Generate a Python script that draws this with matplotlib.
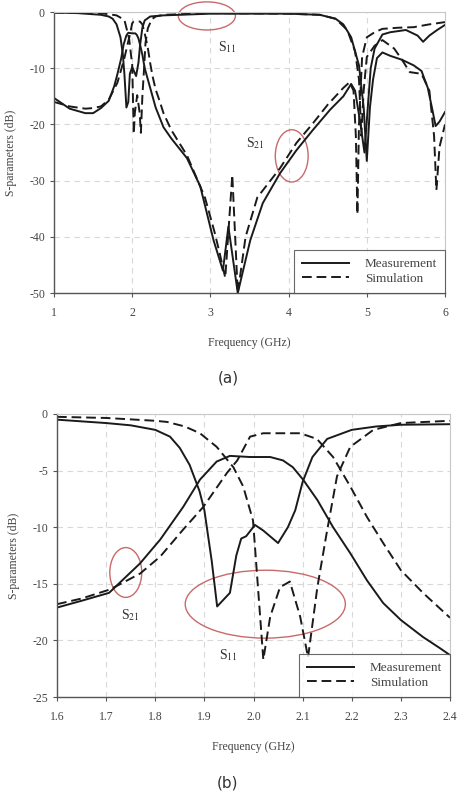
import matplotlib.pyplot as plt
from matplotlib.patches import Ellipse

plt.rcParams['font.family'] = ['Liberation Serif', 'DejaVu Serif']
plt.rcParams['mathtext.fontset'] = 'stix'

# ---- (a) wide band, 1-6 GHz ----
a_s11_meas_f = [1.0, 1.3, 1.6, 1.7, 1.75, 1.8, 1.85, 1.88, 1.9, 1.926, 1.95, 1.97, 2.0, 2.05,
                2.08, 2.1, 2.13, 2.16, 2.23, 2.4, 3.0, 4.0, 4.4, 4.6, 4.7, 4.8, 4.9, 4.96,
                5.0, 5.04, 5.08, 5.13, 5.2, 5.3, 5.45, 5.6, 5.7, 5.78, 5.84, 5.88, 5.93, 6.0]
a_s11_meas_db = [-0.1, -0.2, -0.5, -0.8, -1.2, -2.2, -4.5, -7.5, -11.0, -17.0, -16.0, -11.0, -9.8, -11.4,
                 -9.0, -6.0, -2.8, -1.5, -0.8, -0.6, -0.3, -0.3, -0.5, -1.2, -2.2, -4.5, -9.5, -17.0,
                 -26.5, -17.0, -12.0, -8.2, -7.2, -7.8, -8.5, -9.5, -10.5, -13.5, -17.5, -20.3, -19.5, -17.8]

a_s11_sim_f = [1.0, 1.6, 1.8, 1.9, 1.96, 2.0, 2.02, 2.034, 2.064, 2.095, 2.111, 2.13, 2.15, 2.17,
               2.2, 2.25, 2.3, 2.4, 3.0, 4.0, 4.4, 4.6, 4.75, 4.85, 4.9, 4.93, 4.96, 5.0, 5.1,
               5.2, 5.35, 5.45, 5.55, 5.7, 5.8, 5.86, 5.89, 5.93, 6.0]
a_s11_sim_db = [-0.1, -0.2, -0.6, -1.4, -4.7, -9.4, -21.7, -17.9, -14.8, -17.9, -21.5, -15.0, -10.5, -5.5,
                -2.9, -1.3, -0.8, -0.5, -0.2, -0.3, -0.5, -1.2, -3.2, -7.0, -12.0, -22.0, -14.0, -8.0, -6.0,
                -5.0, -6.5, -8.5, -10.7, -11.0, -14.0, -22.0, -31.7, -24.0, -20.0]

a_s21_meas_f = [1.0, 1.2, 1.4, 1.5, 1.6, 1.7, 1.77, 1.81, 1.86, 1.89, 1.925, 1.95, 2.0, 2.04, 2.06,
                2.08, 2.1, 2.13, 2.16, 2.2, 2.3, 2.4, 2.5, 2.7, 2.87, 3.04, 3.16, 3.23, 3.35, 3.51,
                3.67, 3.89, 4.1, 4.31, 4.53, 4.7, 4.8, 4.85, 4.92, 4.97, 5.05, 5.1, 5.2, 5.3, 5.5,
                5.65, 5.72, 5.8, 5.9, 6.0]
a_s21_meas_db = [-15.3, -17.2, -18.0, -18.0, -17.1, -15.8, -13.2, -11.1, -8.2, -5.8, -4.2, -3.7, -3.8, -3.8, -4.1,
                 -4.7, -5.8, -7.6, -10.0, -12.0, -17.0, -20.5, -22.5, -26.0, -31.0, -40.6, -46.0, -38.2, -50.0, -40.6,
                 -34.0, -28.7, -24.6, -21.0, -17.4, -15.0, -12.8, -14.0, -20.0, -25.0, -10.0, -6.5, -4.0, -3.6, -3.2,
                 -4.2, -5.3, -4.2, -3.2, -2.3]

a_s21_sim_f = [1.0, 1.2, 1.4, 1.5, 1.6, 1.7, 1.81, 1.86, 1.9, 1.95, 1.97, 2.0, 2.02, 2.1, 2.13, 2.16,
               2.2, 2.23, 2.26, 2.3, 2.35, 2.4, 2.5, 2.7, 2.93, 3.05, 3.12, 3.19, 3.28, 3.35, 3.45,
               3.6, 3.89, 4.1, 4.3, 4.5, 4.7, 4.78, 4.83, 4.86, 4.88, 4.9, 4.94, 5.0, 5.1, 5.2,
               5.4, 5.6, 5.8, 6.0]
a_s21_sim_db = [-16.0, -16.8, -17.2, -17.1, -16.8, -15.6, -12.6, -10.2, -8.2, -5.2, -4.1, -2.0, -1.7, -1.7, -2.2, -3.8,
                -6.4, -9.1, -11.4, -13.8, -15.8, -18.0, -21.0, -25.5, -33.0, -39.0, -43.0, -47.3, -29.0, -50.0, -40.0,
                -33.0, -27.8, -23.3, -20.0, -16.5, -13.5, -12.5, -14.0, -22.0, -36.0, -20.0, -8.0, -4.5, -3.6, -3.0,
                -2.8, -2.7, -2.2, -1.8]

# ---- (b) passband, 1.6-2.4 GHz ----
b_s11_meas_f = [1.6, 1.7, 1.75, 1.8, 1.83, 1.85, 1.87, 1.89, 1.9, 1.915, 1.926, 1.952, 1.965, 1.975,
                1.985, 2.003, 2.02, 2.05, 2.07, 2.085, 2.1, 2.12, 2.15, 2.2, 2.25, 2.3, 2.4]
b_s11_meas_db = [-0.5, -0.8, -1.0, -1.4, -2.0, -3.0, -4.5, -6.8, -8.5, -13.0, -17.0, -15.8, -12.5, -11.0,
                 -10.8, -9.8, -10.3, -11.4, -10.0, -8.5, -6.0, -3.8, -2.2, -1.4, -1.1, -0.95, -0.9]

b_s11_sim_f = [1.6, 1.7, 1.8, 1.824, 1.86, 1.891, 1.925, 1.959, 1.979, 1.999, 2.02, 2.034, 2.054, 2.074,
               2.095, 2.111, 2.13, 2.149, 2.17, 2.197, 2.244, 2.3, 2.4]
b_s11_sim_db = [-0.25, -0.35, -0.6, -0.7, -1.1, -1.7, -2.9, -4.7, -6.4, -9.4, -21.7, -17.9, -15.3, -14.8,
                -17.9, -21.5, -15.3, -10.5, -5.5, -2.9, -1.4, -0.8, -0.6]

b_s21_meas_f = [1.6, 1.65, 1.706, 1.769, 1.81, 1.857, 1.891, 1.925, 1.952, 1.993, 2.034, 2.06, 2.08,
                2.101, 2.13, 2.162, 2.197, 2.231, 2.264, 2.3, 2.345, 2.38, 2.4]
b_s21_meas_db = [-17.1, -16.5, -15.8, -13.2, -11.1, -8.2, -5.8, -4.2, -3.7, -3.8, -3.8, -4.1, -4.7,
                 -5.8, -7.6, -10.0, -12.3, -14.7, -16.7, -18.2, -19.7, -20.7, -21.3]

b_s21_sim_f = [1.6, 1.65, 1.708, 1.769, 1.81, 1.857, 1.898, 1.946, 1.967, 1.993, 2.02, 2.095, 2.129,
               2.162, 2.197, 2.231, 2.264, 2.3, 2.345, 2.4]
b_s21_sim_db = [-16.8, -16.3, -15.5, -14.1, -12.6, -10.2, -8.2, -5.2, -4.1, -2.0, -1.7, -1.7, -2.2,
                -3.8, -6.4, -9.1, -11.4, -13.8, -15.8, -18.0]

a_xticks = [1, 2, 3, 4, 5, 6]
a_yticks = [0, -10, -20, -30, -40, -50]
b_xticks = [1.6, 1.7, 1.8, 1.9, 2.0, 2.1, 2.2, 2.3, 2.4]
b_yticks = [0, -5, -10, -15, -20, -25]

W, H = 457, 792
fig = plt.figure(figsize=(W / 100, H / 100), dpi=100)

dash = (0, (5, 2.5))


def style_axes(ax, xlim, ylim, xticks, yticks, xfmt):
    ax.set_xlim(*xlim)
    ax.set_ylim(*ylim)
    ax.set_xticks(xticks)
    ax.set_xticklabels([xfmt.format(t) for t in xticks])
    ax.set_yticks(yticks)
    ax.set_yticklabels([str(t) for t in yticks])
    ax.grid(True, linestyle=(0, (5, 4)), color='#d8d8d8', linewidth=0.8)
    ax.set_axisbelow(True)
    for s in ['top', 'right']:
        ax.spines[s].set_color('#c8c8c8')
        ax.spines[s].set_linewidth(0.8)
    for s in ['left', 'bottom']:
        ax.spines[s].set_color('#555555')
        ax.spines[s].set_linewidth(1.0)
    ax.tick_params(direction='out', length=3, width=0.8, color='#555555',
                   labelsize=8.5, labelcolor='#444444')
    ax.tick_params(axis='x', pad=7)
    ax.set_xlabel('Frequency (GHz)', fontsize=8.5, color='#444444', labelpad=13)
    ax.set_ylabel('S-parameters (dB)', fontsize=8.5, color='#444444', labelpad=9)
    leg = ax.legend(loc='lower right', fontsize=9.5, frameon=True, fancybox=False,
                    borderaxespad=0, handlelength=3.6, labelspacing=0.2,
                    borderpad=0.6, handletextpad=1.2)
    leg.get_frame().set_edgecolor('#444444')
    leg.get_frame().set_linewidth(0.8)
    for t in leg.get_texts():
        t.set_color('#444444')


ell_color = '#c96a6a'

# top panel
ax1 = fig.add_axes([54 / W, 1 - 293 / H, 391 / W, 281 / H])
ax1.plot(a_s21_meas_f, a_s21_meas_db, color='#1a1a1a', lw=1.4, label='Measurement')
ax1.plot(a_s21_sim_f, a_s21_sim_db, color='#1a1a1a', lw=1.4, ls=dash, label='Simulation')
ax1.plot(a_s11_meas_f, a_s11_meas_db, color='#1a1a1a', lw=1.4)
ax1.plot(a_s11_sim_f, a_s11_sim_db, color='#1a1a1a', lw=1.4, ls=dash)
ax1.add_patch(Ellipse((2.955, -0.7), 0.73, 5.0, fill=False, ec=ell_color, lw=1.0, clip_on=False))
ax1.add_patch(Ellipse((4.04, -25.6), 0.42, 9.3, fill=False, ec=ell_color, lw=1.0))
ax1.text(3.22, -6.2, r'S$_{11}$', fontsize=10, color='#333333', ha='center', va='center')
ax1.text(3.57, -23.3, r'S$_{21}$', fontsize=10, color='#333333', ha='center', va='center')
style_axes(ax1, (1, 6), (-50, 0), a_xticks, a_yticks, '{:d}')

# bottom panel
ax2 = fig.add_axes([57 / W, 1 - 697 / H, 393 / W, 283 / H])
ax2.plot(b_s21_meas_f, b_s21_meas_db, color='#1a1a1a', lw=1.4, label='Measurement')
ax2.plot(b_s21_sim_f, b_s21_sim_db, color='#1a1a1a', lw=1.4, ls=dash, label='Simulation')
ax2.plot(b_s11_meas_f, b_s11_meas_db, color='#1a1a1a', lw=1.4)
ax2.plot(b_s11_sim_f, b_s11_sim_db, color='#1a1a1a', lw=1.4, ls=dash)
ax2.add_patch(Ellipse((1.74, -14.0), 0.065, 4.4, fill=False, ec=ell_color, lw=1.0))
ax2.add_patch(Ellipse((2.024, -16.8), 0.326, 6.0, fill=False, ec=ell_color, lw=1.0))
ax2.text(1.75, -17.8, r'S$_{21}$', fontsize=10, color='#333333', ha='center', va='center')
ax2.text(1.948, -21.3, r'S$_{11}$', fontsize=10, color='#333333', ha='center', va='center')
style_axes(ax2, (1.6, 2.4), (-25, 0), b_xticks, b_yticks, '{:.1f}')

fig.text(228 / W, 1 - 378 / H, '(a)', family='DejaVu Sans', fontsize=11,
         color='#333333', ha='center', va='center')
fig.text(228 / W, 1 - 783 / H, '(b)', family='DejaVu Sans', fontsize=11,
         color='#333333', ha='center', va='center')

fig.savefig('out.png', dpi=100)
